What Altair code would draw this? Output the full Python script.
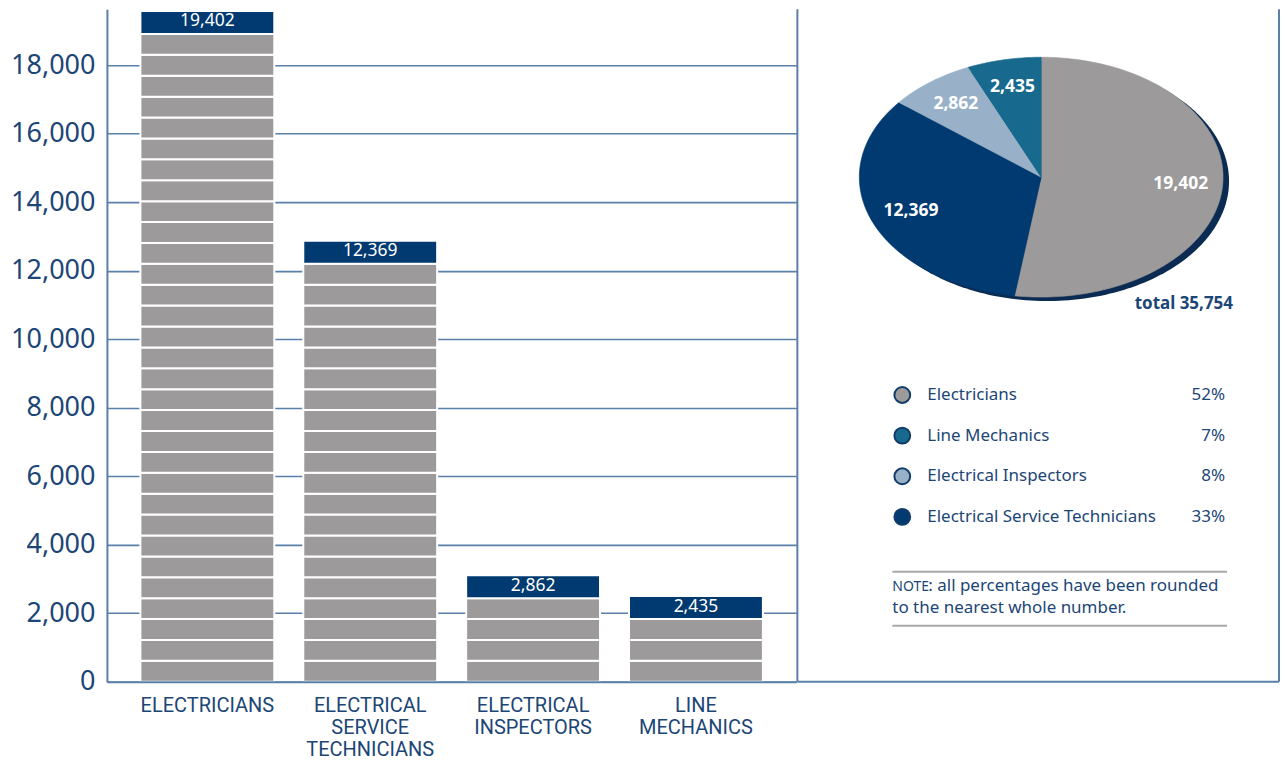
import numpy as np
import pandas as pd
import altair as alt

# ---------------- data ----------------
CATEGORIES = ["Electricians", "Electrical Service Technicians",
              "Electrical Inspectors", "Line Mechanics"]
COUNTS = [19402, 12369, 2862, 2435]
SLICE_COLORS = ["#9c9a9b", "#003a70", "#98b1c8", "#176a8d"]

LEGEND_ORDER = ["Electricians", "Line Mechanics",
                "Electrical Inspectors", "Electrical Service Technicians"]
LEGEND_PCTS = [52, 7, 8, 33]
TOTAL = 35754
TOTAL_PREFIX = "total"
Y_TICKS = list(range(0, 18001, 2000))
NOTE_SMALLCAPS = "NOTE"
NOTE_LINES = [": all percentages have been rounded",
              "to the nearest whole number."]

# ---------------- style ----------------
FONT = "Noto Sans"
CAT_FONT = "Roboto"
NAVY_TEXT = "#1c4676"
AXIS_BLUE = "#5a7fa8"
GREY = "#9c9a9b"
CAP_NAVY = "#003a70"
SHADOW = "#0b2b52"

BLOCK = 610      # height of one stripe block (data units)
CAP = 670        # height of the dark cap (data units)
Y_MAX = 19630

PLOT_W, H = 690, 673
RIGHT_W = 483
CX, CY, RX, RY = 244, 168, 182, 120
PROJ = dict(type="identity", reflectY=True, scale=1, translate=[CX, CY])

# ---------------- bar chart ----------------
blocks, caps = [], []
for cat, v in zip(CATEGORIES, COUNTS):
    n = v // BLOCK
    for k in range(n):
        blocks.append({"cat": cat, "y0": k * BLOCK, "y1": (k + 1) * BLOCK})
    caps.append({"cat": cat, "y0": n * BLOCK, "y1": n * BLOCK + CAP,
                 "ym": n * BLOCK + CAP / 2, "value": v})
blocks_df = pd.DataFrame(blocks)
caps_df = pd.DataFrame(caps)

x_enc = alt.X(
    "cat:N", sort=CATEGORIES,
    scale=alt.Scale(domain=CATEGORIES, paddingInner=0.178, paddingOuter=0.2056),
    axis=alt.Axis(title=None, labelAngle=0, ticks=False, grid=False,
                  labelExpr="split(upper(datum.label), ' ')",
                  labelFont=CAT_FONT, labelFontSize=20, labelLineHeight=22,
                  labelColor=NAVY_TEXT, labelPadding=14, labelBaseline="top",
                  domainColor=AXIS_BLUE, domainWidth=2, zindex=1),
)
y_scale = alt.Scale(domain=[0, Y_MAX], nice=False, zero=True)
y_enc = alt.Y(
    "y0:Q", scale=y_scale,
    axis=alt.Axis(title=None, values=Y_TICKS, format=",.0f", ticks=False,
                  grid=True, gridColor=AXIS_BLUE, gridWidth=1.6,
                  domainColor=AXIS_BLUE, domainWidth=2,
                  labelFont=FONT, labelFontSize=27, labelColor=NAVY_TEXT,
                  labelPadding=12, minExtent=99, maxExtent=99, zindex=0),
)

bars = alt.Chart(blocks_df).mark_bar(
    fill=GREY, stroke="white", strokeWidth=2
).encode(x=x_enc, y=y_enc, y2="y1:Q")

cap_bars = alt.Chart(caps_df).mark_bar(
    fill=CAP_NAVY, stroke="white", strokeWidth=2
).encode(x=alt.X("cat:N", sort=CATEGORIES), y=alt.Y("y0:Q", scale=y_scale), y2="y1:Q")

cap_text = alt.Chart(caps_df).mark_text(
    color="white", font=FONT, fontSize=17.5, baseline="middle", dy=-1
).encode(x=alt.X("cat:N", sort=CATEGORIES), y=alt.Y("ym:Q", scale=y_scale),
         text=alt.Text("value:Q", format=","))

left = alt.layer(bars, cap_bars, cap_text).properties(width=PLOT_W, height=H)

# ---------------- pie (elliptical) ----------------
total_sum = float(sum(COUNTS))
fr = np.concatenate([[0.0], np.cumsum(COUNTS) / total_sum])
features = []
labels = []
for i, cat in enumerate(CATEGORIES):
    npts = max(8, int(240 * (fr[i + 1] - fr[i])) + 2)
    ang = np.linspace(fr[i], fr[i + 1], npts) * 2 * np.pi
    pts = [[0.0, 0.0]] + [[float(RX * np.sin(a)), float(RY * np.cos(a))] for a in ang] + [[0.0, 0.0]]
    features.append({"type": "Feature", "properties": {"name": cat},
                     "geometry": {"type": "Polygon", "coordinates": [pts]}})
    mid = (fr[i] + fr[i + 1]) / 2 * 2 * np.pi
    labels.append({"lon": float(0.77 * RX * np.sin(mid)),
                   "lat": float(0.77 * RY * np.cos(mid)),
                   "value": COUNTS[i]})

ang_full = np.linspace(0, 2 * np.pi, 240)
shadow_pts = [[float(RX * np.sin(a) + 6), float(RY * np.cos(a) - 4)] for a in ang_full]
shadow_feat = [{"type": "Feature", "properties": {"name": "shadow"},
                "geometry": {"type": "Polygon", "coordinates": [shadow_pts]}}]

color_scale = alt.Scale(domain=CATEGORIES, range=SLICE_COLORS)

shadow = alt.Chart(alt.Data(values=shadow_feat)).mark_geoshape(
    fill=SHADOW, strokeWidth=0).project(**PROJ)

slices = alt.Chart(alt.Data(values=features)).mark_geoshape(
    strokeWidth=0.6).encode(
    color=alt.Color("properties.name:N", scale=color_scale, legend=None),
    stroke=alt.Stroke("properties.name:N", scale=color_scale, legend=None),
).project(**PROJ)

slice_text = alt.Chart(pd.DataFrame(labels)).mark_text(
    color="white", font=FONT, fontSize=17.5, fontWeight="bold", baseline="middle"
).encode(longitude="lon:Q", latitude="lat:Q",
         text=alt.Text("value:Q", format=",")).project(**PROJ)

total_df = pd.DataFrame({"t": [f"{TOTAL_PREFIX} {TOTAL:,}"]})
total_text = alt.Chart(total_df).mark_text(
    color=NAVY_TEXT, font=FONT, fontSize=17, fontWeight="bold",
    align="right", baseline="middle"
).encode(x=alt.value(436), y=alt.value(295), text="t:N")

# ---------------- legend ----------------
legend_df = pd.DataFrame({"name": LEGEND_ORDER,
                          "pct": [f"{p}%" for p in LEGEND_PCTS]})
y_leg = alt.Y("name:N", sort=LEGEND_ORDER,
              scale=alt.Scale(type="point", domain=LEGEND_ORDER,
                              range=[386, 508], padding=0),
              axis=None)
leg_dots = alt.Chart(legend_df).mark_point(
    filled=True, size=250, stroke="#123d6b", strokeWidth=2, opacity=1
).encode(x=alt.value(105), y=y_leg,
         color=alt.Color("name:N", scale=color_scale, legend=None))
leg_names = alt.Chart(legend_df).mark_text(
    color=NAVY_TEXT, font=FONT, fontSize=17, align="left", baseline="middle"
).encode(x=alt.value(130), y=y_leg, text="name:N")
leg_pcts = alt.Chart(legend_df).mark_text(
    color=NAVY_TEXT, font=FONT, fontSize=17, align="right", baseline="middle"
).encode(x=alt.value(428), y=y_leg, text="pct:N")

# ---------------- note ----------------
one = pd.DataFrame({"a": [0]})
note_rule_top = alt.Chart(one).mark_rule(color="#a9a9a9", strokeWidth=2).encode(
    x=alt.value(95), x2=alt.value(430), y=alt.value(563))
note_rule_bot = alt.Chart(one).mark_rule(color="#a9a9a9", strokeWidth=2).encode(
    x=alt.value(95), x2=alt.value(430), y=alt.value(617))
note_sc = alt.Chart(pd.DataFrame({"t": [NOTE_SMALLCAPS]})).mark_text(
    color=NAVY_TEXT, font=FONT, fontSize=14, align="left", baseline="middle"
).encode(x=alt.value(95), y=alt.value(578), text="t:N")
note1 = alt.Chart(pd.DataFrame({"t": [NOTE_LINES[0]]})).mark_text(
    color=NAVY_TEXT, font=FONT, fontSize=17, align="left", baseline="middle"
).encode(x=alt.value(131), y=alt.value(577), text="t:N")
note2 = alt.Chart(pd.DataFrame({"t": [NOTE_LINES[1]]})).mark_text(
    color=NAVY_TEXT, font=FONT, fontSize=17, align="left", baseline="middle"
).encode(x=alt.value(95), y=alt.value(599), text="t:N")

# ---------------- panel borders ----------------
border_left = alt.Chart(one).mark_rule(color=AXIS_BLUE, strokeWidth=2).encode(
    x=alt.value(0), y=alt.value(0), y2=alt.value(H))
border_right = alt.Chart(one).mark_rule(color=AXIS_BLUE, strokeWidth=2).encode(
    x=alt.value(RIGHT_W - 1), y=alt.value(0), y2=alt.value(H))
border_bottom = alt.Chart(one).mark_rule(color=AXIS_BLUE, strokeWidth=2).encode(
    x=alt.value(0), x2=alt.value(RIGHT_W - 1), y=alt.value(H))

right = alt.layer(
    shadow, slices, slice_text, total_text,
    leg_dots, leg_names, leg_pcts,
    note_rule_top, note_rule_bot, note_sc, note1, note2,
    border_left, border_right, border_bottom,
).properties(width=RIGHT_W, height=H)

chart = alt.hconcat(left, right, spacing=0).properties(padding=0).configure_view(
    stroke=None
).resolve_scale(color="independent", y="independent", x="independent")

chart.save("out.html", embed_options={"renderer": "svg", "actions": False})
